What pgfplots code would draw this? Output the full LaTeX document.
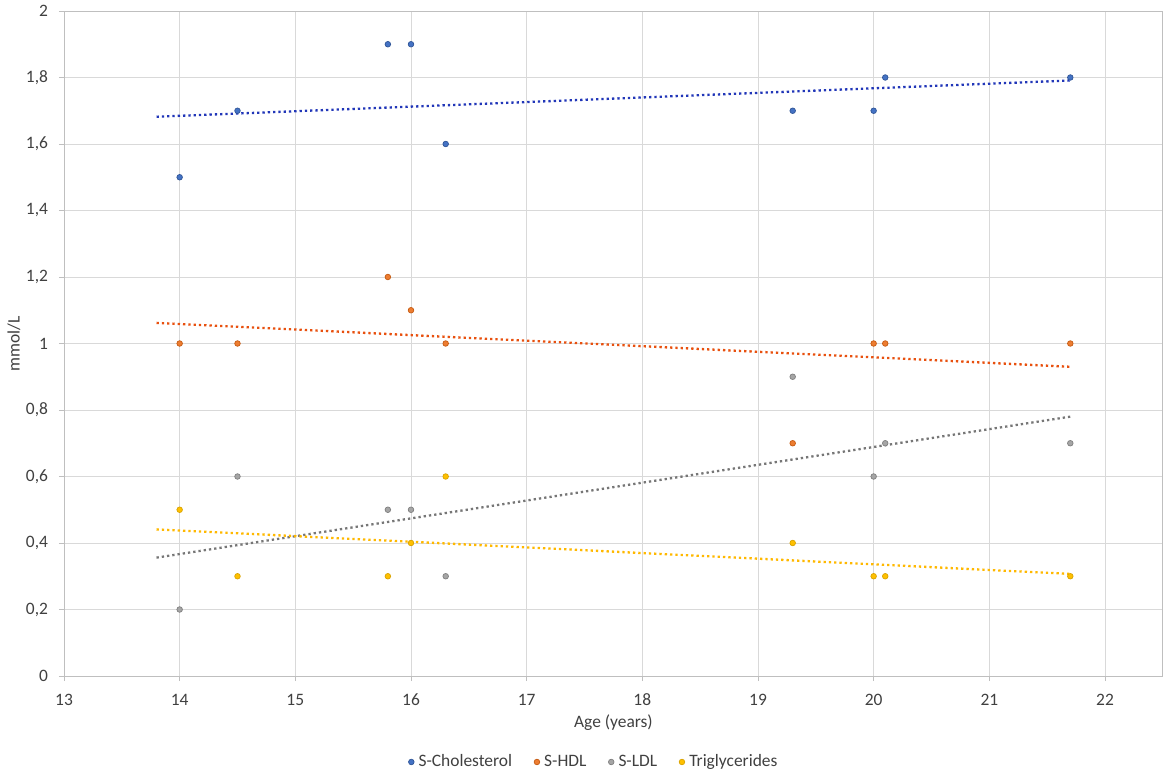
\documentclass[border=0pt]{standalone}
\usepackage{pgfplots}
\pgfplotsset{compat=1.18}
\usepackage{fontspec}
\setmainfont{Carlito}
\definecolor{cblue}{HTML}{4472C4}
\definecolor{cblueE}{HTML}{2F5597}
\definecolor{corange}{HTML}{ED7D31}
\definecolor{corangeE}{HTML}{C55A11}
\definecolor{cgray}{HTML}{A5A5A5}
\definecolor{cgrayE}{HTML}{7F7F7F}
\definecolor{cgold}{HTML}{FFC000}
\definecolor{cgoldE}{HTML}{D9A300}
\definecolor{tblue}{HTML}{2136B8}
\definecolor{torange}{HTML}{E8500E}
\definecolor{tgray}{HTML}{767676}
\definecolor{tgold}{HTML}{FFB800}
\definecolor{gridc}{HTML}{D9D9D9}
\definecolor{boxc}{HTML}{BFBFBF}
\definecolor{txt}{HTML}{404040}
\begin{document}
\fontsize{17.5}{21}\selectfont
\begin{tikzpicture}
\path[use as bounding box] (-64bp,-98bp) rectangle (1106bp,676bp);
\begin{axis}[
  at={(0,0)}, anchor=south west,
  scale only axis, width=1099bp, height=665bp,
  xmin=13, xmax=22.5, ymin=0, ymax=2,
  xtick={13,14,...,22}, ytick={0,0.2,...,2.01},
  grid=major, major grid style={draw=gridc, line width=0.9bp},
  axis line style={draw=boxc, line width=0.9bp},
  tick style={draw=boxc, line width=0.9bp},
  tick align=outside, major tick length=5bp,
  xtick pos=bottom, ytick pos=left,
  /pgf/number format/assume math mode=true,
  /pgf/number format/use comma,
  yticklabel style={/pgf/number format/fixed, /pgf/number format/precision=1},
  every tick label/.append style={font=\fontsize{17.5}{21}\selectfont, text=txt},
  xticklabel style={anchor=base, yshift=-24bp},
  yticklabel style={anchor=east, xshift=-5bp},
  xlabel={Age (years)}, ylabel={mmol/L},
  every axis label/.append style={font=\fontsize{17.5}{21}\selectfont, text=txt},
  xlabel style={at={(axis description cs:0.5,-0.0707)}, anchor=center},
  ylabel style={at={(axis description cs:-0.0455,0.5)}, anchor=center},
  legend style={draw=none, fill=none, at={(0.4823,-0.1293)}, anchor=center,
    legend columns=-1, font=\fontsize{17.5}{21}\selectfont, text=txt,
    /tikz/every odd column/.style={column sep=2.5bp},
    /tikz/every even column/.style={column sep=20bp}},
  legend image code/.code={\draw[#1] plot coordinates {(0bp,0bp)};},
  trend/.style={no marks, line width=2.3bp, dash pattern=on 2.3bp off 3bp, forget plot},
  pts/.style={only marks, mark=*, mark size=2.8bp, mark options={line width=0.7bp}},
]
\addplot[trend, tblue] coordinates {(13.8,1.682) (21.7,1.791)};
\addplot[trend, torange] coordinates {(13.8,1.062) (21.7,0.930)};
\addplot[trend, tgray] coordinates {(13.8,0.356) (21.7,0.780)};
\addplot[trend, tgold] coordinates {(13.8,0.441) (21.7,0.307)};

\addplot[pts, draw=cblueE, fill=cblue] coordinates {
(14,1.5) (14.5,1.7) (15.8,1.9) (16,1.9) (16.3,1.6) (19.3,1.7) (20,1.7) (20.1,1.8) (21.7,1.8)};
\addlegendentry{S-Cholesterol}
\addplot[pts, draw=corangeE, fill=corange] coordinates {
(14,1.0) (14.5,1.0) (15.8,1.2) (16,1.1) (16.3,1.0) (19.3,0.7) (20,1.0) (20.1,1.0) (21.7,1.0)};
\addlegendentry{S-HDL}
\addplot[pts, draw=cgrayE, fill=cgray] coordinates {
(14,0.2) (14.5,0.6) (15.8,0.5) (16,0.5) (16.3,0.3) (19.3,0.9) (20,0.6) (20.1,0.7) (21.7,0.7)};
\addlegendentry{S-LDL}
\addplot[pts, draw=cgoldE, fill=cgold] coordinates {
(14,0.5) (14.5,0.3) (15.8,0.3) (16,0.4) (16.3,0.6) (19.3,0.4) (20,0.3) (20.1,0.3) (21.7,0.3)};
\addlegendentry{Triglycerides}
\end{axis}
\end{tikzpicture}
\end{document}
